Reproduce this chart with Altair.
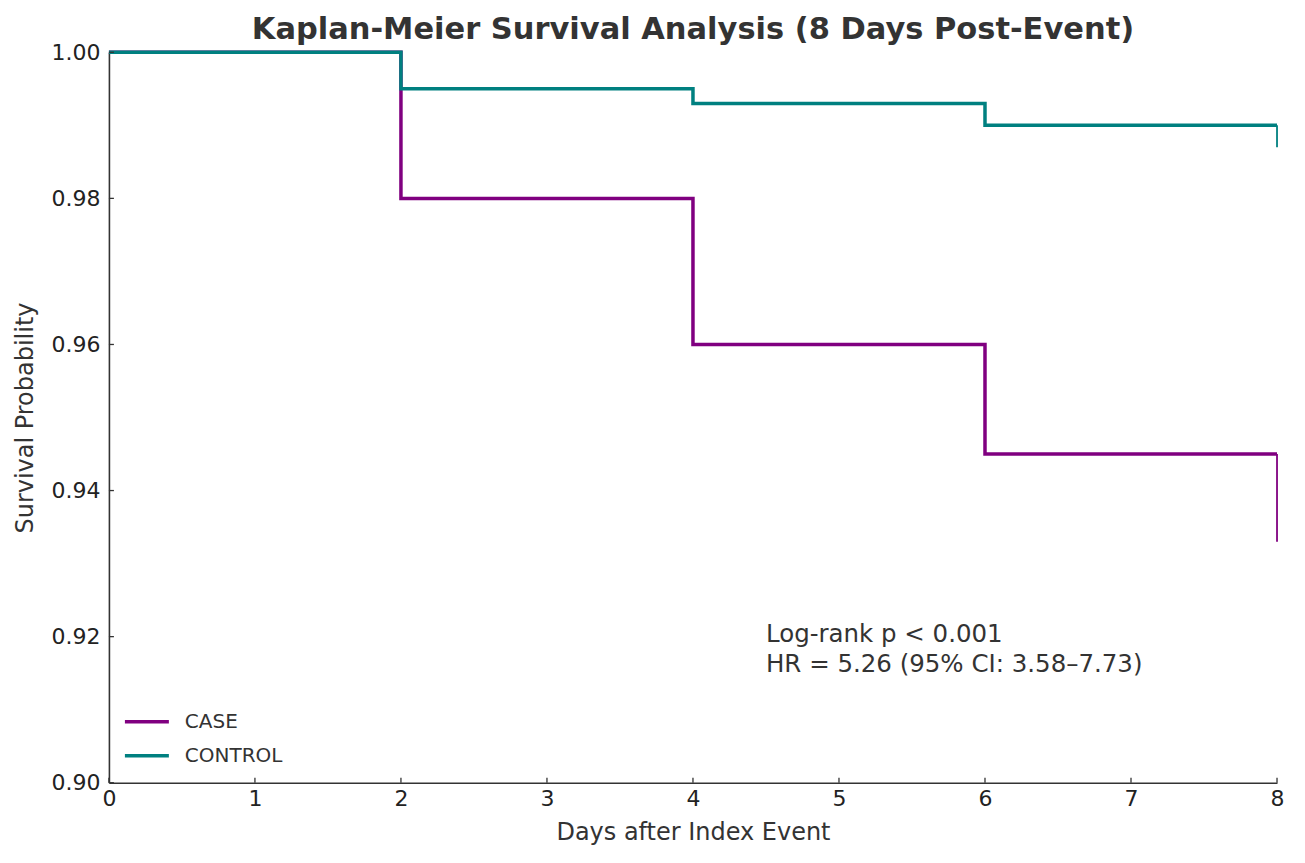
import altair as alt
import pandas as pd

# ---- data ----
days = [0, 2, 4, 6, 8]
case_surv = [1.0, 0.98, 0.96, 0.945, 0.945]
control_surv = [1.0, 0.995, 0.993, 0.990, 0.990]
end_day = 8
case_end = 0.933
control_end = 0.987
groups = ["CASE", "CONTROL"]
colors = ["#800080", "#008080"]
x_ticks = [0, 1, 2, 3, 4, 5, 6, 7, 8]
y_ticks = [0.90, 0.92, 0.94, 0.96, 0.98, 1.00]
annotation_lines = ["Log-rank p < 0.001", "HR = 5.26 (95% CI: 3.58–7.73)"]
ann_x = 4.5
ann_y = 0.9219
title_text = "Kaplan-Meier Survival Analysis (8 Days Post-Event)"

W, H = 1169, 731
FONT = "DejaVu Sans"
TXT = "#333333"

case_df = pd.DataFrame({"day": days, "surv": case_surv, "group": groups[0]})
ctrl_df = pd.DataFrame({"day": days, "surv": control_surv, "group": groups[1]})
end_df = pd.DataFrame({
    "day": [end_day, end_day],
    "surv": [case_surv[-1], control_surv[-1]],
    "surv2": [case_end, control_end],
    "group": groups,
})
xt_df = pd.DataFrame({"day": x_ticks})
yt_df = pd.DataFrame({"surv": y_ticks})
ann_df = pd.DataFrame({"day": [ann_x], "surv": [ann_y]})

xs = alt.Scale(domain=[0, 8], nice=False, zero=False)
ys = alt.Scale(domain=[0.9, 1.0], nice=False, zero=False)
cs = alt.Scale(domain=groups, range=colors)

x_axis = alt.Axis(values=x_ticks, format="d", ticks=False, grid=False,
                  labelFlush=False, labelOverlap=False,
                  labelPadding=6, labelFontSize=22, labelColor="#222222",
                  title="Days after Index Event", titleFontSize=24,
                  titleFontWeight="normal", titleColor=TXT, titlePadding=11,
                  domainColor="#333333", domainWidth=1.6)
y_axis = alt.Axis(values=y_ticks, format=".2f", ticks=False, grid=False,
                  labelFlush=False, labelOverlap=False,
                  labelPadding=9, labelFontSize=22, labelColor="#222222",
                  title="Survival Probability", titleFontSize=24,
                  titleFontWeight="normal", titleColor=TXT, titlePadding=13,
                  domainColor="#333333", domainWidth=1.6)

legend = alt.Legend(title=None, orient="none", legendX=14, legendY=646,
                    symbolType="stroke", symbolSize=1936, symbolStrokeWidth=3.5,
                    labelFontSize=20, labelColor=TXT, labelFont=FONT,
                    rowPadding=-18, labelOffset=14)

case_line = alt.Chart(case_df).mark_line(interpolate="step-after", strokeWidth=3.5).encode(
    x=alt.X("day:Q", scale=xs, axis=x_axis),
    y=alt.Y("surv:Q", scale=ys, axis=y_axis),
    color=alt.Color("group:N", scale=cs, legend=legend),
)
ctrl_line = alt.Chart(ctrl_df).mark_line(interpolate="step-after", strokeWidth=3.5).encode(
    x=alt.X("day:Q", scale=xs),
    y=alt.Y("surv:Q", scale=ys),
    color=alt.Color("group:N", scale=cs, legend=legend),
)
end_rules = alt.Chart(end_df).mark_rule(strokeWidth=1.8).encode(
    x=alt.X("day:Q", scale=xs),
    y=alt.Y("surv:Q", scale=ys),
    y2="surv2:Q",
    color=alt.Color("group:N", scale=cs, legend=legend),
)
x_tick_marks = alt.Chart(xt_df).mark_rule(color="#333333", strokeWidth=1.3).encode(
    x=alt.X("day:Q", scale=xs),
    y=alt.value(H),
    y2=alt.value(H - 5),
)
y_tick_marks = alt.Chart(yt_df).mark_rule(color="#333333", strokeWidth=1.3).encode(
    y=alt.Y("surv:Q", scale=ys),
    x=alt.value(0),
    x2=alt.value(5),
)
ann = alt.Chart(ann_df).mark_text(
    text=annotation_lines, align="left", baseline="top", fontSize=24.5,
    font=FONT, color=TXT, lineHeight=30,
).encode(
    x=alt.X("day:Q", scale=xs),
    y=alt.Y("surv:Q", scale=ys),
)

chart = alt.layer(case_line, end_rules, ctrl_line, x_tick_marks, y_tick_marks, ann).properties(
    width=W, height=H,
    title=alt.Title(title_text, fontSize=30.5, font=FONT, fontWeight="bold",
                    color=TXT, anchor="middle", offset=-4),
    autosize=alt.AutoSizeParams(type="none"),
    padding={"left": 101, "top": 44, "right": 20, "bottom": 70},
).configure(font=FONT).configure_view(stroke=None).configure_axis(
    labelFont=FONT, titleFont=FONT
)

chart.save("out.html", embed_options={"renderer": "svg", "actions": False})
